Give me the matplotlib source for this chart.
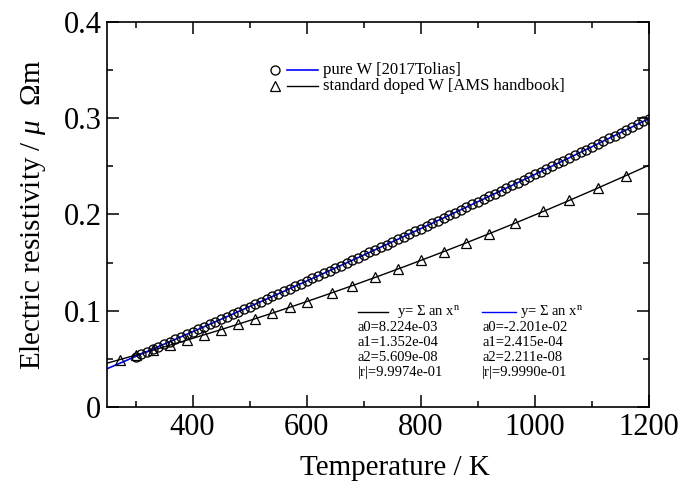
import numpy as np
import matplotlib
matplotlib.use('Agg')
import matplotlib.pyplot as plt
from matplotlib.ticker import MultipleLocator

plt.rcParams['font.family'] = ['Liberation Serif', 'DejaVu Serif']
plt.rcParams['mathtext.fontset'] = 'custom'
plt.rcParams['mathtext.rm'] = 'Liberation Serif'
plt.rcParams['mathtext.it'] = 'Liberation Serif:italic'

# pure W [2017Tolias] - circles, every 10 K
temp_pure = list(range(300, 1201, 10))
rho_pure = [0.0524, 0.0550, 0.0575, 0.0601, 0.0627, 0.0652, 0.0678, 0.0704, 0.0730, 0.0755,
            0.0781, 0.0807, 0.0833, 0.0859, 0.0885, 0.0911, 0.0938, 0.0964, 0.0990, 0.1016,
            0.1043, 0.1069, 0.1096, 0.1122, 0.1149, 0.1175, 0.1202, 0.1228, 0.1255, 0.1282,
            0.1309, 0.1335, 0.1362, 0.1389, 0.1416, 0.1443, 0.1470, 0.1497, 0.1524, 0.1552,
            0.1579, 0.1606, 0.1633, 0.1661, 0.1688, 0.1716, 0.1743, 0.1771, 0.1798, 0.1826,
            0.1853, 0.1881, 0.1909, 0.1937, 0.1965, 0.1992, 0.2020, 0.2048, 0.2076, 0.2104,
            0.2133, 0.2161, 0.2189, 0.2217, 0.2245, 0.2274, 0.2302, 0.2331, 0.2359, 0.2388,
            0.2416, 0.2445, 0.2473, 0.2502, 0.2531, 0.2559, 0.2588, 0.2617, 0.2646, 0.2675,
            0.2704, 0.2733, 0.2762, 0.2791, 0.2820, 0.2850, 0.2879, 0.2908, 0.2938, 0.2967,
            0.2996]

# standard doped W [AMS handbook] - triangles
temp_doped = [273, 300, 330, 360, 390, 420, 450, 480, 510, 540, 570, 600, 645,
              680, 720, 760, 800, 840, 880, 920, 965, 1015, 1060, 1110, 1160]
rho_doped = [0.0493, 0.0538, 0.0590, 0.0642, 0.0695, 0.0749, 0.0804, 0.0860, 0.0918,
             0.0976, 0.1035, 0.1095, 0.1188, 0.1261, 0.1347, 0.1434, 0.1523, 0.1614,
             0.1706, 0.1801, 0.1909, 0.2032, 0.2146, 0.2274, 0.2405]

# fit coefficients printed on the chart
coef_doped = [8.224e-03, 1.352e-04, 5.609e-08]
coef_pure = [-2.201e-02, 2.415e-04, 2.211e-08]
r_doped = 9.9974e-01
r_pure = 9.9990e-01

fig = plt.figure(figsize=(6.94, 4.82), dpi=100)
ax = fig.add_axes([0.1542, 0.1556, 0.781, 0.7988])

t = np.linspace(250, 1200, 200)
fit_pure = coef_pure[0] + coef_pure[1] * t + coef_pure[2] * t ** 2
fit_doped = coef_doped[0] + coef_doped[1] * t + coef_doped[2] * t ** 2

ax.plot(t, fit_doped, color='black', lw=1.0, zorder=2)
ax.plot(temp_doped, rho_doped, linestyle='none', marker='^', ms=6.5, mfc='none',
        mec='black', mew=0.9, zorder=3)
ax.plot(t, fit_pure, color='#0000ff', lw=1.2, zorder=2)
ax.plot(temp_pure, rho_pure, linestyle='none', marker='o', ms=6.5, mfc='none',
        mec='black', mew=0.95, zorder=3)

ax.set_xlim(250, 1200)
ax.set_ylim(0, 0.4)
ax.xaxis.set_major_locator(MultipleLocator(200))
ax.xaxis.set_minor_locator(MultipleLocator(100))
ax.yaxis.set_minor_locator(MultipleLocator(0.05))
ax.set_yticks([0, 0.1, 0.2, 0.3, 0.4])
ax.set_yticklabels(['0', '0.1', '0.2', '0.3', '0.4'])
ax.tick_params(which='both', direction='in', top=True, right=True, width=1.1)
ax.tick_params(which='major', length=8.5, labelsize=22, pad=4)
ax.tick_params(which='minor', length=4.5)
for s in ax.spines.values():
    s.set_linewidth(1.2)

ax.set_xlabel('Temperature / K', fontsize=21)
ax.set_ylabel(r'Electric resistivity / $\mathit{\mu}$  Ωm', fontsize=21)
ax.xaxis.set_label_coords(0.531, -0.125)
ax.yaxis.set_label_coords(-0.108, 0.5)

# legend drawn by hand
tr = ax.transAxes
rows = [0.875, 0.833]
ax.plot([0.310], [rows[0]], marker='o', ms=6.5, mfc='none', mec='black', mew=0.95, transform=tr)
ax.plot([0.310], [rows[1]], marker='^', ms=6.5, mfc='none', mec='black', mew=0.9, transform=tr)
ax.plot([0.332, 0.389], [rows[0]] * 2, color='#0000ff', lw=1.2, transform=tr)
ax.plot([0.332, 0.389], [rows[1]] * 2, color='black', lw=1.0, transform=tr)
ax.text(0.399, rows[0], 'pure W [2017Tolias]', transform=tr, fontsize=12, va='center')
ax.text(0.399, rows[1], 'standard doped W [AMS handbook]', transform=tr, fontsize=12, va='center')

# fit boxes
fy = [0.247, 0.207, 0.168, 0.129, 0.090]
cols = [(0.463, 0.518, 0.535, 'black', coef_doped, r_doped),
        (0.692, 0.755, 0.762, '#0000ff', coef_pure, r_pure)]
for x0, x1, xt, c, coef, r in cols:
    ax.plot([x0, x1], [fy[0]] * 2, color=c, lw=1.0, transform=tr)
    ax.text(xt, fy[0], r'y= Σ an x$^{\mathrm{n}}$', transform=tr, fontsize=10.5, va='center')
    ax.text(x0, fy[1], 'a0=%.3e' % coef[0], transform=tr, fontsize=10.5, va='center')
    ax.text(x0, fy[2], 'a1=%.3e' % coef[1], transform=tr, fontsize=10.5, va='center')
    ax.text(x0, fy[3], 'a2=%.3e' % coef[2], transform=tr, fontsize=10.5, va='center')
    ax.text(x0, fy[4], '|r|=%.4e' % r, transform=tr, fontsize=10.5, va='center')

fig.savefig('out.png', dpi=100)
